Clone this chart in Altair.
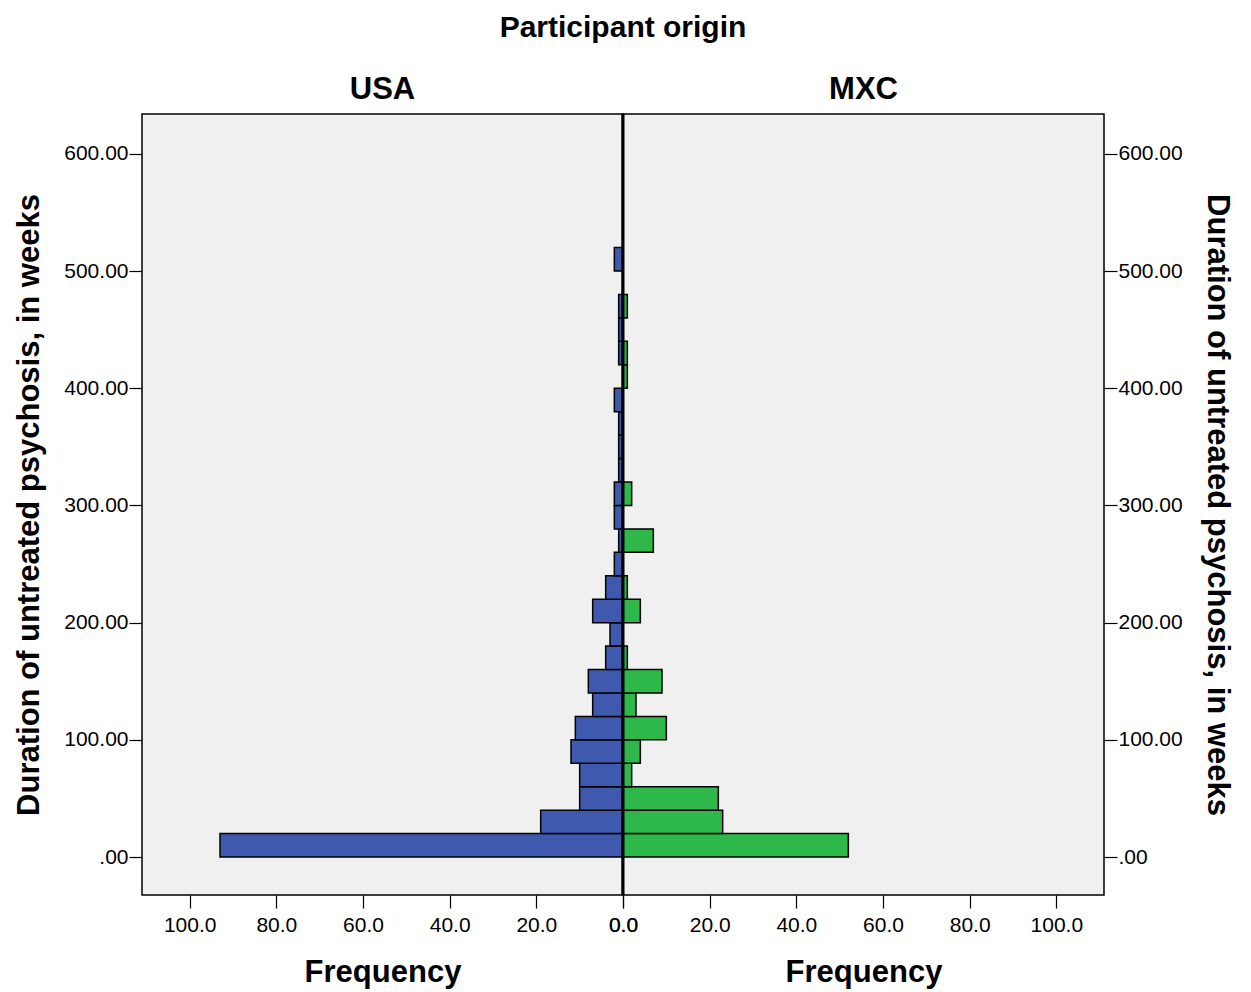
import altair as alt
import pandas as pd

bin_start = [0, 20, 40, 60, 80, 100, 120, 140, 160, 180, 200, 220, 240,
             260, 280, 300, 320, 340, 360, 380, 400, 420, 440, 460, 480, 500]
usa_counts = [93, 19, 10, 10, 12, 11, 7, 8, 4, 3, 7, 4, 2,
              1, 2, 2, 1, 1, 1, 2, 0, 1, 1, 1, 0, 2]
mxc_counts = [52, 23, 22, 2, 4, 10, 3, 9, 1, 0, 4, 1, 0,
              7, 0, 2, 0, 0, 0, 0, 1, 1, 0, 1, 0, 0]
bin_width = 20
x_ticks = [0, 20, 40, 60, 80, 100]
y_ticks = [0, 100, 200, 300, 400, 500, 600]

usa = pd.DataFrame({"start": bin_start,
                    "end": [b + bin_width for b in bin_start],
                    "count": usa_counts})
usa = usa[usa["count"] > 0]
mxc = pd.DataFrame({"start": bin_start,
                    "end": [b + bin_width for b in bin_start],
                    "count": mxc_counts})
mxc = mxc[mxc["count"] > 0]
zero_df = pd.DataFrame({"z": [0]})

FONT = "Liberation Sans, Arial, Helvetica, sans-serif"
W, H = 481, 781
XDOM = [0, 111]
YDOM = [-32.4, 634]
TFS = 31

ylabel_expr = "datum.value == 0 ? '.00' : format(datum.value, '.2f')"


def x_axis():
    return alt.Axis(values=x_ticks, format=".1f", title="Frequency",
                    labelFlush=False, grid=False, domain=False,
                    tickSize=13, tickColor="black", tickWidth=1.2,
                    labelFontSize=21, labelColor="black", labelFont=FONT,
                    labelPadding=6,
                    titleFontSize=TFS, titleFont=FONT, titleFontWeight="bold",
                    titleColor="black", titlePadding=22)


def y_axis(orient):
    return alt.Axis(values=y_ticks, labelExpr=ylabel_expr, orient=orient,
                    title="Duration of untreated psychosis, in weeks",
                    grid=False, domain=False, tickSize=13, tickColor="black",
                    tickWidth=1.2, labelFontSize=21, labelColor="black",
                    labelFont=FONT, labelPadding=1, labelFlush=False,
                    titleFontSize=TFS, titleFont=FONT, titleFontWeight="bold",
                    titleColor="black", titlePadding=18)


left_bars = alt.Chart(usa).mark_bar(
    color="#3e59ad", stroke="black", strokeWidth=1.5
).encode(
    x=alt.X("count:Q", scale=alt.Scale(domain=XDOM, reverse=True, nice=False),
            axis=x_axis()),
    x2=alt.datum(0),
    y=alt.Y("start:Q", scale=alt.Scale(domain=YDOM, nice=False, zero=False),
            axis=y_axis("left")),
    y2="end:Q",
)
left_rule = alt.Chart(zero_df).mark_rule(color="black", strokeWidth=3).encode(
    x=alt.X("z:Q"))
left = alt.layer(left_bars, left_rule).properties(
    width=W, height=H,
    title=alt.TitleParams("USA", fontSize=TFS, font=FONT, fontWeight="bold",
                          color="black", offset=7))

right_bars = alt.Chart(mxc).mark_bar(
    color="#2eb84a", stroke="black", strokeWidth=1.5
).encode(
    x=alt.X("count:Q", scale=alt.Scale(domain=XDOM, nice=False),
            axis=x_axis()),
    x2=alt.datum(0),
    y=alt.Y("start:Q", scale=alt.Scale(domain=YDOM, nice=False, zero=False),
            axis=y_axis("right")),
    y2="end:Q",
)
right_rule = alt.Chart(zero_df).mark_rule(color="black", strokeWidth=3).encode(
    x=alt.X("z:Q"))
right = alt.layer(right_bars, right_rule).properties(
    width=W, height=H,
    title=alt.TitleParams("MXC", fontSize=TFS, font=FONT, fontWeight="bold",
                          color="black", offset=7))

chart = alt.hconcat(left, right, spacing=0, bounds="flush").resolve_scale(
    x="independent", y="independent"
).properties(
    title=alt.TitleParams("Participant origin", fontSize=30, font=FONT,
                          fontWeight="bold", color="black", offset=30,
                          anchor="middle"),
    padding={"top": 4, "left": 5, "right": 5, "bottom": 5},
).configure(
    background="white"
).configure_view(
    fill="#f0f0f0", stroke="black", strokeWidth=1.5
)

chart.save("out.html", embed_options={"renderer": "svg", "actions": False})
